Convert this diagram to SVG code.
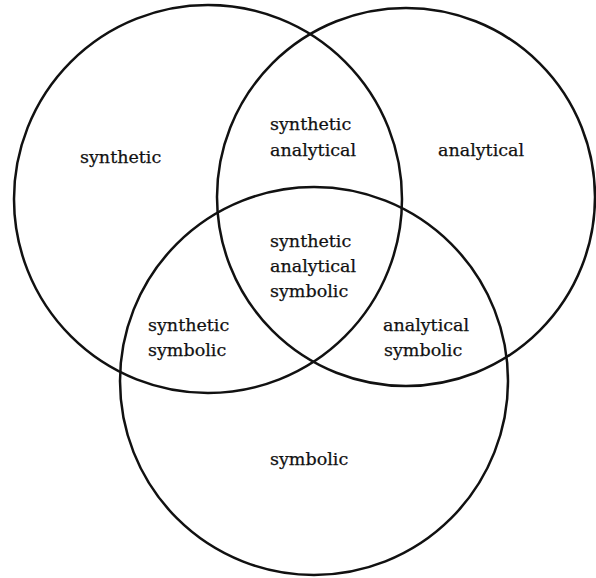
<svg xmlns="http://www.w3.org/2000/svg" width="596" height="578" viewBox="0 0 596 578">
<style>
.c{fill:none;stroke:#111;stroke-width:2.5}
.t{font-family:"DejaVu Serif","Liberation Serif",serif;font-size:17.5px;fill:#111;stroke:#111;stroke-width:0.25}
</style>
<rect width="596" height="578" fill="#fff"/>
<g id="circles">
<circle id="synthetic-set" class="c" cx="208" cy="199" r="194"/>
<circle id="analytical-set" class="c" cx="406" cy="197" r="189"/>
<circle id="symbolic-set" class="c" cx="314" cy="381" r="194"/>
</g>
<g id="labels" class="t">
<text id="l-syn" x="80" y="163">synthetic</text>
<text id="l-synana" x="270" y="130"><tspan x="270">synthetic</tspan><tspan x="270" y="156">analytical</tspan></text>
<text id="l-ana" x="438" y="156">analytical</text>
<text id="l-all" x="270" y="247"><tspan x="270">synthetic</tspan><tspan x="270" y="272">analytical</tspan><tspan x="270" y="297">symbolic</tspan></text>
<text id="l-synsym" x="148" y="331"><tspan x="148">synthetic</tspan><tspan x="148" y="356">symbolic</tspan></text>
<text id="l-anasym" x="383" y="331"><tspan x="383">analytical</tspan><tspan x="384" y="356">symbolic</tspan></text>
<text id="l-sym" x="270" y="465">symbolic</text>
</g>
</svg>
